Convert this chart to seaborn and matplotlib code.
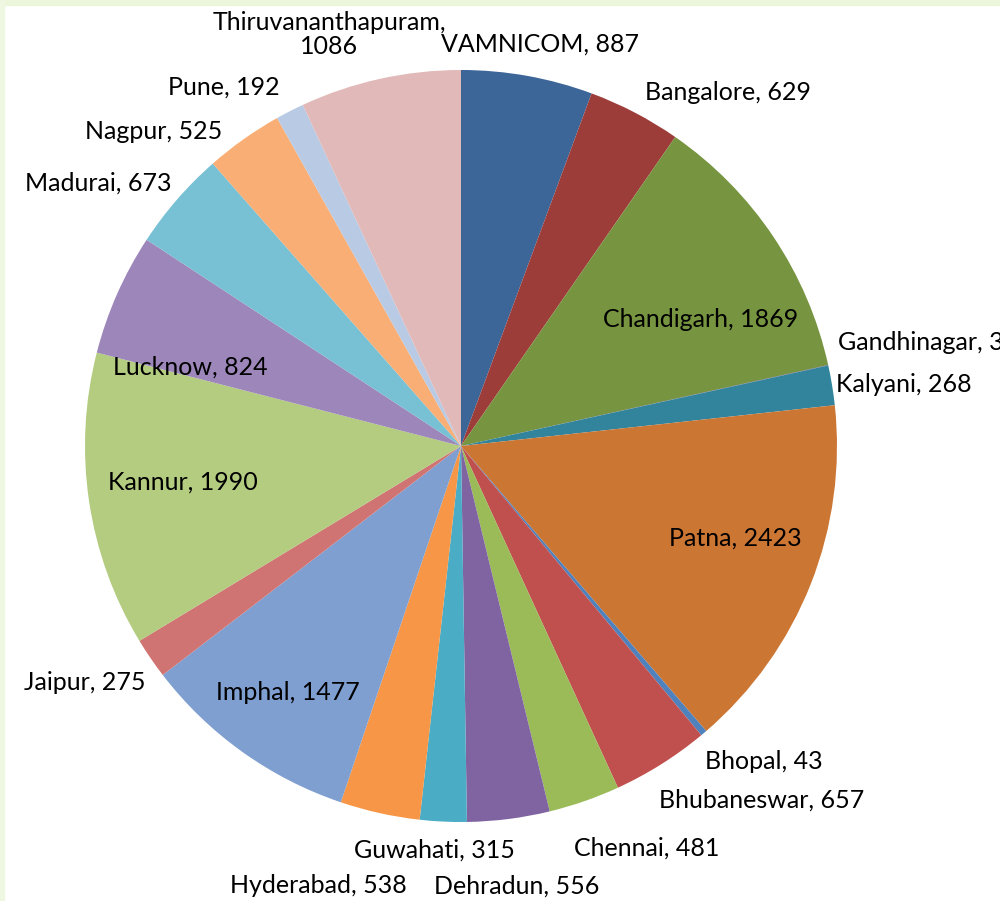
import numpy as np
import matplotlib
matplotlib.use("Agg")
import matplotlib.pyplot as plt
import seaborn as sns
from matplotlib.patches import Rectangle

# data (clockwise from 12 o'clock)
centres = ['VAMNICOM', 'Bangalore', 'Chandigarh', 'Gandhinagar', 'Kalyani',
           'Patna', 'Bhopal', 'Bhubaneswar', 'Chennai', 'Dehradun',
           'Guwahati', 'Hyderabad', 'Imphal', 'Jaipur', 'Kannur',
           'Lucknow', 'Madurai', 'Nagpur', 'Pune', 'Thiruvananthapuram']
counts = [887, 629, 1869, 3, 268,
          2423, 43, 657, 481, 556,
          315, 538, 1477, 275, 1990,
          824, 673, 525, 192, 1086]

colors = ['#3C6598', '#9C3D3A', '#779440', '#5F4B7C', '#31849B',
          '#CC7634', '#4F81BD', '#C0504D', '#9BBB59', '#8064A2',
          '#4BACC6', '#F79646', '#7F9FD0', '#D07473', '#B3CC80',
          '#9D86B9', '#78C0D4', '#F9AE76', '#B9CAE4', '#E2B9B9']

# label placement: (radius factor, clockwise angle nudge in degrees, alignment)
label_pos = {
    'VAMNICOM': (1.09, 1, 'center'), 'Bangalore': (1.06, 0, 'left'),
    'Chandigarh': (0.72, 6, 'center'), 'Gandhinagar': (1.04, -3, 'left'),
    'Kalyani': (1.01, 0, 'left'), 'Patna': (0.77, -3, 'center'),
    'Bhopal': (1.06, 2.5, 'left'), 'Bhubaneswar': (1.08, 3, 'left'),
    'Chennai': (1.11, 3.5, 'left'), 'Dehradun': (1.18, 0, 'center'),
    'Guwahati': (1.077, 1, 'center'), 'Hyderabad': (1.23, 5.5, 'center'),
    'Imphal': (0.80, -0.5, 'center'), 'Jaipur': (1.05, -2.5, 'right'),
    'Kannur': (0.745, 1, 'center'), 'Lucknow': (0.75, -7.5, 'center'),
    'Madurai': (1.04, 1.3, 'right'), 'Nagpur': (1.05, -2, 'right'),
    'Pune': (1.07, 0.3, 'right'), 'Thiruvananthapuram': (1.15, -5.3, 'center'),
}

sns.set_theme(style='white')
plt.rcParams['font.family'] = ['Lato', 'DejaVu Sans']

W, H = 1000, 901
cx, cy, R = 461, H - 446, 376

fig = plt.figure(figsize=(W / 100, H / 100), dpi=100)
ax = fig.add_axes([0, 0, 1, 1])

wedges, _ = ax.pie(counts, colors=sns.color_palette(colors), startangle=90,
                   counterclock=False, center=(cx, cy), radius=R,
                   wedgeprops=dict(linewidth=0))

for w, name, val in zip(wedges, centres, counts):
    rf, nudge, ha = label_pos[name]
    ang = np.deg2rad((w.theta1 + w.theta2) / 2 - nudge)
    x = cx + rf * R * np.cos(ang)
    y = cy + rf * R * np.sin(ang)
    txt = f'{name},\n{val}' if name == 'Thiruvananthapuram' else f'{name}, {val}'
    ax.text(x, y, txt, ha=ha, va='center', fontsize=18, color='black',
            linespacing=1.05)

# faint green frame of the original slide
ax.add_patch(Rectangle((0, H - 5), W, 5, color='#EBF6DA', zorder=5))
ax.add_patch(Rectangle((0, 0), 4, H, color='#EEF7E2', zorder=5))

ax.set_xlim(0, W)
ax.set_ylim(0, H)
ax.set_aspect('auto')
ax.axis('off')

fig.savefig('out.png', dpi=100, facecolor='white')
